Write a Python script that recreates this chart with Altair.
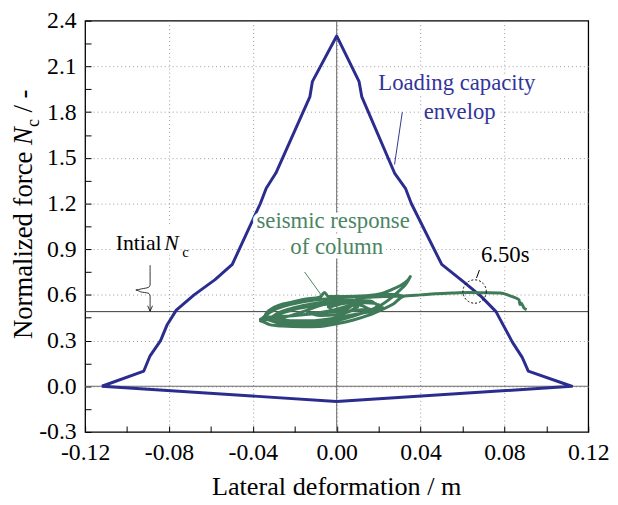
import altair as alt
import pandas as pd

# ---------------- data ----------------
x_ticks = [-0.12, -0.10, -0.08, -0.06, -0.04, -0.02, 0.0, 0.02, 0.04, 0.06, 0.08, 0.10, 0.12]
y_ticks = [-0.3, -0.15, 0.0, 0.15, 0.3, 0.45, 0.6, 0.75, 0.9, 1.05, 1.2, 1.35, 1.5,
           1.65, 1.8, 1.95, 2.1, 2.25, 2.4]

# loading capacity envelope (closed polygon, in drawing order)
envelope_x = [-0.112, -0.092, -0.089, -0.084, -0.081, -0.0765, -0.068, -0.058, -0.0498,
              -0.0364, -0.0336, -0.0290, -0.0128, -0.0116, 0.000, 0.0107, 0.0120, 0.0276,
              0.0328, 0.0356, 0.0501, 0.0610, 0.0689, 0.0760, 0.0799, 0.0838, 0.0885,
              0.0914, 0.1121, 0.000, -0.112]
envelope_y = [0.0, 0.1, 0.2, 0.3, 0.4, 0.5, 0.6, 0.7, 0.8,
              1.2, 1.3, 1.4, 1.9, 2.0, 2.3, 2.0, 1.9, 1.4,
              1.3, 1.2, 0.8, 0.68, 0.59, 0.49, 0.39, 0.29, 0.19,
              0.1, 0.0, -0.1, 0.0]

# seismic response of column (hysteresis trace, in time order)
response_x = [
    0.000, 0.006, 0.010,
    -0.014, -0.008, 0.000, 0.006, 0.010, 0.006, 0.000, -0.008, -0.014,
    -0.031, -0.026, -0.016, -0.006, 0.004, 0.012, 0.018, 0.020, 0.016, 0.008, -0.002, -0.012, -0.022, -0.028, -0.031,
    -0.0364, -0.032, -0.026, -0.016, -0.008, 0.000, 0.008, 0.015, 0.021, 0.027, 0.032,
    0.028, 0.020, 0.010, 0.000, -0.008, -0.016, -0.024, -0.030, -0.034, -0.0364,
    -0.029, -0.022, -0.012, -0.002, 0.008, 0.016, 0.022, 0.018, 0.010, 0.000, -0.010, -0.020, -0.026, -0.029,
    -0.034, -0.028, -0.018, -0.008, 0.000, 0.008, 0.016, 0.022, 0.026, 0.030, 0.033, 0.0351,
    0.032, 0.027, 0.022, 0.014, 0.004, -0.004, -0.0058, -0.008, -0.016, -0.022, -0.027, -0.032, -0.034,
    -0.034, -0.024, -0.012, 0.000, 0.010, 0.016, 0.012, 0.004, -0.004, -0.002, 0.004, 0.008, 0.010,
    0.016, 0.024, 0.031, 0.040, 0.047, 0.055, 0.063, 0.071, 0.078, 0.083, 0.087, 0.0874, 0.088,
    0.0893, 0.0906,
]
response_y = [
    0.500, 0.530, 0.555,
    0.480, 0.465, 0.470, 0.490, 0.520, 0.545, 0.550, 0.530, 0.500,
    0.440, 0.425, 0.420, 0.430, 0.450, 0.480, 0.510, 0.535, 0.560, 0.565, 0.560, 0.540, 0.510, 0.480, 0.455,
    0.428, 0.405, 0.395, 0.390, 0.393, 0.410, 0.435, 0.465, 0.500, 0.540, 0.590,
    0.605, 0.600, 0.590, 0.580, 0.570, 0.555, 0.530, 0.500, 0.465, 0.440,
    0.440, 0.430, 0.430, 0.445, 0.470, 0.490, 0.515, 0.545, 0.550, 0.545, 0.530, 0.505, 0.480, 0.460,
    0.440, 0.415, 0.405, 0.410, 0.430, 0.460, 0.500, 0.540, 0.580, 0.630, 0.670, 0.720,
    0.675, 0.640, 0.612, 0.595, 0.590, 0.590, 0.616, 0.585, 0.570, 0.550, 0.535, 0.500, 0.470,
    0.455, 0.460, 0.475, 0.490, 0.500, 0.505, 0.530, 0.545, 0.520, 0.500, 0.505, 0.540, 0.575,
    0.585, 0.590, 0.592, 0.600, 0.607, 0.612, 0.615, 0.614, 0.612, 0.592, 0.568, 0.536, 0.547,
    0.515, 0.503,
]

initial_nc = 0.49

# annotation texts (data coordinates)
label_text = ["Loading capacity", "envelop", "seismic response", "of column", "6.50s"]
label_x = [0.0573, 0.0587, -0.0017, 0.0, 0.0804]
label_y = [1.945, 1.756, 1.04, 0.871, 0.813]
label_group = ["blue", "blue", "green", "green", "black"]

# pointer lines
pointer_group = ["blue", "blue", "green", "green", "black", "black"]
pointer_x = [0.0313, 0.0276, -0.0153, -0.0068, 0.0681, 0.0667]
pointer_y = [1.80, 1.456, 0.75, 0.588, 0.763, 0.711]

# wavy arrow for "Intial Nc"
arrow_x = [-0.0890, -0.0890, -0.0897, -0.0930, -0.0958, -0.0935, -0.0897, -0.0890, -0.0890]
arrow_y = [0.795, 0.665, 0.650, 0.640, 0.632, 0.620, 0.610, 0.595, 0.493]

# dotted circle at 6.50 s
circle_x = [0.0658]
circle_y = [0.622]

# ---------------- style ----------------
FONT = "Liberation Serif"
BLUE = "#2B2D8E"
GREEN = "#3F7A59"
TEXT_BLUE = "#33349A"
TEXT_GREEN = "#4B8463"

xscale = alt.Scale(domain=[-0.12, 0.12], nice=False, zero=False)
yscale = alt.Scale(domain=[-0.3, 2.4], nice=False, zero=False)

x_major = "abs(round(datum.value * 100)) % 4 == 0"
y_major = "abs(round(datum.value * 100)) % 30 == 0"

x_axis = alt.Axis(
    values=x_ticks, title=None, domain=False, offset=-6, tickSize=6, tickWidth=1,
    tickColor="black",
    labelExpr=f"{x_major} ? (datum.value < -0.001 ? '-' : '') + format(abs(datum.value), '.2f') : ''",
    labelFont=FONT, labelFontSize=24, labelColor="black", labelPadding=9,
    labelFlush=False, labelOverlap=False,
    grid=True, gridColor="#9a9a9a", gridDash=[1, 3], gridWidth=1,
    gridOpacity={"condition": {"test": f"{x_major} && abs(datum.value) < 0.11", "value": 1}, "value": 0},
)
y_axis = alt.Axis(
    values=y_ticks, title=None, domain=False, offset=-6, tickSize=6, tickWidth=1,
    tickColor="black",
    labelExpr=f"{y_major} ? (datum.value < -0.001 ? '-' : '') + format(abs(datum.value), '.1f') : ''",
    labelFont=FONT, labelFontSize=24, labelColor="black", labelPadding=9,
    labelFlush=False, labelOverlap=False,
    grid=True, gridColor="#9a9a9a", gridDash=[1, 3], gridWidth=1,
    gridOpacity={"condition": {"test": f"{y_major} && datum.value > -0.29 && datum.value < 2.39", "value": 1}, "value": 0},
)


def X(f):
    return alt.X(f, type="quantitative", scale=xscale, axis=x_axis)


def Y(f):
    return alt.Y(f, type="quantitative", scale=yscale, axis=y_axis)


env_df = pd.DataFrame({"x": envelope_x, "y": envelope_y, "i": list(range(len(envelope_x)))})
resp_df = pd.DataFrame({"x": response_x, "y": response_y, "i": list(range(len(response_x)))})
lab_df = pd.DataFrame({"x": label_x, "y": label_y, "t": label_text, "g": label_group})
ptr_df = pd.DataFrame({"x": pointer_x, "y": pointer_y, "g": pointer_group})
arr_df = pd.DataFrame({"x": arrow_x, "y": arrow_y, "i": list(range(len(arrow_x)))})
cir_df = pd.DataFrame({"x": circle_x, "y": circle_y})
tip_df = pd.DataFrame({"x": [arrow_x[-1]], "y": [arrow_y[-1]]})
intial_df = pd.DataFrame({"x": [-0.1054], "y": [0.892], "t": ["Intial"]})
n_df = pd.DataFrame({"x": [-0.0823], "y": [0.892], "t": ["N"]})
c_df = pd.DataFrame({"x": [-0.0737], "y": [0.846], "t": ["c"]})

grid_layer = alt.Chart(pd.DataFrame({"x": [0.0], "y": [0.0]})).mark_point(opacity=0).encode(x=X("x"), y=Y("y"))

zero_h = alt.Chart(pd.DataFrame({"y": [0.0]})).mark_rule(color="#666666", strokeWidth=1).encode(y=Y("y"))
zero_v = alt.Chart(pd.DataFrame({"x": [0.0]})).mark_rule(color="#666666", strokeWidth=1).encode(x=X("x"))
init_h = alt.Chart(pd.DataFrame({"y": [initial_nc]})).mark_rule(color="#3a3a3a", strokeWidth=1).encode(y=Y("y"))

envelope = alt.Chart(env_df).mark_line(color=BLUE, strokeWidth=3, strokeJoin="round").encode(
    x=X("x"), y=Y("y"), order="i:Q")
response = alt.Chart(resp_df).mark_line(color=GREEN, strokeWidth=3, strokeJoin="round",
                                        interpolate="monotone").encode(
    x=X("x"), y=Y("y"), order="i:Q")

color_scale = alt.Scale(domain=["blue", "green", "black"], range=[TEXT_BLUE, TEXT_GREEN, "black"])

halo_main = alt.Chart(lab_df).mark_text(font=FONT, fontSize=23, color="white", stroke="white",
                                        strokeWidth=9, strokeJoin="round", align="center",
                                        baseline="alphabetic").encode(x=X("x"), y=Y("y"), text="t:N")
text_main = alt.Chart(lab_df).mark_text(font=FONT, fontSize=23, align="center",
                                        baseline="alphabetic").encode(
    x=X("x"), y=Y("y"), text="t:N", color=alt.Color("g:N", scale=color_scale, legend=None))

halo_intial = alt.Chart(intial_df).mark_text(font=FONT, fontSize=22, color="white", stroke="white",
                                             strokeWidth=9, align="left", baseline="alphabetic").encode(
    x=X("x"), y=Y("y"), text="t:N")
halo_n = alt.Chart(n_df).mark_text(font=FONT, fontSize=22, fontStyle="italic", color="white", stroke="white",
                                   strokeWidth=9, align="left", baseline="alphabetic").encode(
    x=X("x"), y=Y("y"), text="t:N")
text_intial = alt.Chart(intial_df).mark_text(font=FONT, fontSize=22, color="black", align="left",
                                             baseline="alphabetic").encode(x=X("x"), y=Y("y"), text="t:N")
text_n = alt.Chart(n_df).mark_text(font=FONT, fontSize=22, fontStyle="italic", color="black", align="left",
                                   baseline="alphabetic").encode(x=X("x"), y=Y("y"), text="t:N")
text_c = alt.Chart(c_df).mark_text(font=FONT, fontSize=15, color="black", align="left",
                                   baseline="alphabetic").encode(x=X("x"), y=Y("y"), text="t:N")

pointers = alt.Chart(ptr_df).mark_line(strokeWidth=1).encode(
    x=X("x"), y=Y("y"), detail="g:N", color=alt.Color("g:N", scale=color_scale, legend=None))
arrow = alt.Chart(arr_df).mark_line(color="black", strokeWidth=0.8, interpolate="monotone").encode(
    x=X("x"), y=Y("y"), order="i:Q")
arrow_tip = alt.Chart(tip_df).mark_point(shape="M -0.45 -1 L 0 0 L 0.45 -1", size=120, filled=False,
                                         color="black", strokeWidth=0.8, opacity=1).encode(x=X("x"), y=Y("y"))
circle = alt.Chart(cir_df).mark_point(shape="circle", size=560, filled=False, color="black",
                                      strokeWidth=1, strokeDash=[2, 2], opacity=1).encode(x=X("x"), y=Y("y"))

# axis titles
TS = 27
one = pd.DataFrame({"k": [0]})
xtitle = alt.Chart(one).mark_text(text="Lateral deformation / m", font=FONT, fontSize=26.5, color="black",
                                  align="center", baseline="alphabetic").encode(
    x=alt.value(254.5), y=alt.value(480))
yt1 = alt.Chart(one).mark_text(text="Normalized force", font=FONT, fontSize=TS, color="black", angle=270,
                               align="left", baseline="alphabetic").encode(x=alt.value(-54), y=alt.value(322))
yt2 = alt.Chart(one).mark_text(text="N", font=FONT, fontSize=TS, fontStyle="italic", color="black", angle=270,
                               align="left", baseline="alphabetic").encode(x=alt.value(-54), y=alt.value(125.6))
yt3 = alt.Chart(one).mark_text(text="c", font=FONT, fontSize=18, color="black", angle=270,
                               align="left", baseline="alphabetic").encode(x=alt.value(-47), y=alt.value(107.6))
yt4 = alt.Chart(one).mark_text(text="/ -", font=FONT, fontSize=TS, color="black", angle=270,
                               align="left", baseline="alphabetic").encode(x=alt.value(-54), y=alt.value(92.8))

chart = alt.layer(
    grid_layer, zero_h, zero_v, init_h, envelope, response,
    halo_main, halo_intial, halo_n,
    text_main, text_intial, text_n, text_c,
    pointers, arrow, arrow_tip, circle,
    xtitle, yt1, yt2, yt3, yt4,
).resolve_scale(color="independent").properties(
    width=509, height=416,
    autosize=alt.AutoSizeParams(type="none"),
    padding={"left": 78, "top": 10, "right": 22, "bottom": 70},
    background="white",
).configure(font=FONT).configure_text(font=FONT).configure_view(stroke="black", strokeWidth=1.3)

chart.save("out.html", embed_options={"renderer": "svg", "actions": False})
